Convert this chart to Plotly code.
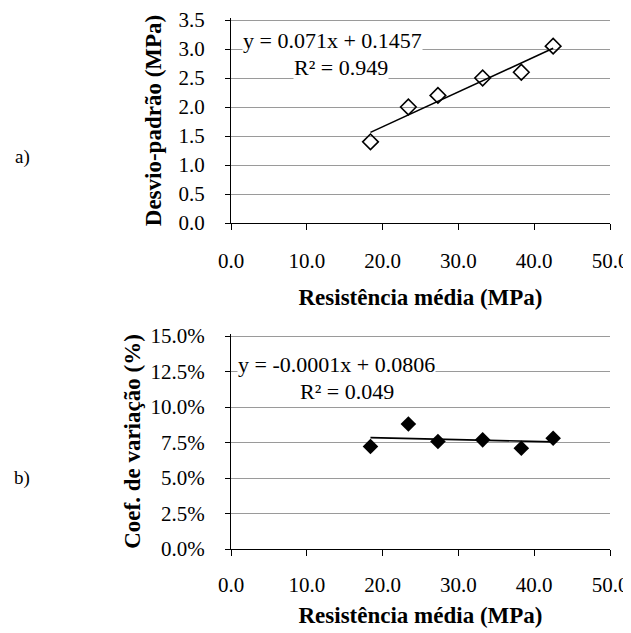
import numpy as np
import plotly.graph_objects as go

# Data
resist_media = [18.4, 23.4, 27.3, 33.2, 38.3, 42.5]          # MPa
desvio_padrao = [1.40, 2.00, 2.20, 2.50, 2.60, 3.05]          # MPa
coef_variacao = [0.0722, 0.0881, 0.0757, 0.0769, 0.0710, 0.0780]
x_ticks = [0, 10, 20, 30, 40, 50]
y_ticks_a = [0.0, 0.5, 1.0, 1.5, 2.0, 2.5, 3.0, 3.5]
y_ticks_b = [0.0, 0.025, 0.05, 0.075, 0.10, 0.125, 0.15]
eq_a = ["y = 0.071x + 0.1457", "R² = 0.949"]
eq_b = ["y = -0.0001x + 0.0806", "R² = 0.049"]

# page body has an 8px margin: shrink the figure and offset all positions
OFF = 8
W, H = 631 - OFF, 633 - OFF
def px_x(a, b):
    return [(a - OFF) / W, (b - OFF) / W]
def px_y(top, bot):
    return [1 - (bot - OFF) / H, 1 - (top - OFF) / H]
def fx(p):
    return (p - OFF) / W
def fy(p):
    return 1 - (p - OFF) / H

FONT = "Liberation Serif"
xa = np.array(resist_media)
xl = np.array([xa.min(), xa.max()])
pa = np.polyfit(xa, desvio_padrao, 1)
pb = np.polyfit(xa, coef_variacao, 1)

fig = go.Figure()
fig.add_trace(go.Scatter(x=resist_media, y=desvio_padrao, mode="markers",
                         marker=dict(symbol="diamond-open", size=12, color="black",
                                     line=dict(width=1.6, color="black")),
                         xaxis="x", yaxis="y", showlegend=False))
fig.add_trace(go.Scatter(x=xl, y=np.polyval(pa, xl), mode="lines",
                         line=dict(color="black", width=1.6),
                         xaxis="x", yaxis="y", showlegend=False))
fig.add_trace(go.Scatter(x=resist_media, y=coef_variacao, mode="markers",
                         marker=dict(symbol="diamond", size=12, color="black"),
                         xaxis="x2", yaxis="y2", showlegend=False))
fig.add_trace(go.Scatter(x=xl, y=np.polyval(pb, xl), mode="lines",
                         line=dict(color="black", width=1.6),
                         xaxis="x2", yaxis="y2", showlegend=False))

tickfont = dict(family=FONT, size=21, color="black")
titlefont = dict(family=FONT, size=23, color="black")

def xaxis_cfg(anchor, label_standoff, title_standoff):
    return dict(domain=px_x(231, 610), anchor=anchor, range=[0, 50], automargin=False,
                tickvals=x_ticks, ticktext=[f"{v:.1f}" for v in x_ticks],
                showgrid=False, zeroline=False, showline=True, linecolor="black",
                linewidth=1, ticks="outside", ticklen=6, tickcolor="black",
                tickfont=tickfont, ticklabelstandoff=label_standoff,
                ticklabeloverflow="allow",
                title=dict(text="<b>Resistência média (MPa)</b>", font=titlefont,
                           standoff=title_standoff))

def xover_cfg(base, anchor):
    return dict(overlaying=base, anchor=anchor, range=[0, 50], domain=px_x(231, 610),
                automargin=False,
                tickvals=x_ticks, showticklabels=False, showgrid=False, zeroline=False,
                ticks="inside", ticklen=6, tickcolor="black", showline=False,
                minor=dict(tickvals=[5, 15, 25, 35, 45], ticks="inside", ticklen=4,
                           tickcolor="black", showgrid=False))

def yaxis_cfg(dom, anchor, vals, fmt, title, standoff):
    return dict(domain=dom, anchor=anchor, range=[vals[0], vals[-1] * 1.01],
                tickvals=vals, automargin=False, ticklabeloverflow="allow",
                tickformat=fmt, showgrid=True, gridcolor="#9a9a9a", gridwidth=1,
                zeroline=False, showline=True, linecolor="black", linewidth=1,
                ticks="outside", ticklen=5, tickcolor="black", tickfont=tickfont,
                ticklabelstandoff=16,
                title=dict(text=title, font=titlefont, standoff=standoff))

fig.update_layout(
    width=W, height=H, margin=dict(l=0, r=0, t=0, b=0),
    paper_bgcolor="white", plot_bgcolor="white",
    xaxis=xaxis_cfg("y", 13, 16),
    yaxis=yaxis_cfg(px_y(18, 223), "x", y_ticks_a, ".1f",
                    "<b>Desvio-padrão (MPa)</b>", 10),
    xaxis2=xaxis_cfg("y2", 11, 10),
    yaxis2=yaxis_cfg(px_y(334, 549), "x2", y_ticks_b, ".1%",
                     "<b>Coef. de variação (%)</b>", 3),
    xaxis3=xover_cfg("x", "y"),
    xaxis4=xover_cfg("x2", "y2"),
)

annots = [
    dict(x=242, y=40, text=eq_a[0], xanchor="left"),
    dict(x=341, y=68, text=eq_a[1], xanchor="center"),
    dict(x=237, y=364, text=eq_b[0], xanchor="left"),
    dict(x=347, y=392, text=eq_b[1], xanchor="center"),
]
for a in annots:
    fig.add_annotation(xref="paper", yref="paper", x=fx(a["x"]), y=fy(a["y"]), text=a["text"],
                       xanchor=a["xanchor"], yanchor="middle", showarrow=False,
                       bgcolor="white", borderpad=0,
                       font=dict(family=FONT, size=22, color="black"))
for lab, yy in [("a)", 157), ("b)", 478)]:
    fig.add_annotation(xref="paper", yref="paper", x=fx(22), y=fy(yy), text=lab,
                       xanchor="center", yanchor="middle", showarrow=False,
                       font=dict(family=FONT, size=19, color="black"))

fig.write_html("out.html")
